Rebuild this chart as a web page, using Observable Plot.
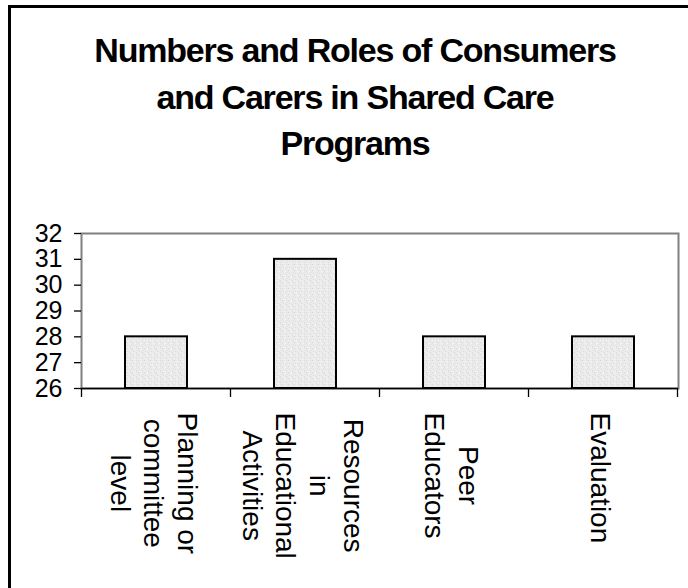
<!DOCTYPE html>
<html><head><meta charset="utf-8">
<script src="https://cdn.jsdelivr.net/npm/d3@7"></script>
<script src="https://cdn.jsdelivr.net/npm/@observablehq/plot@0.6"></script>
<style>
html,body{margin:0;padding:0;background:#fff;overflow:hidden;}
#wrap{position:relative;width:688px;height:588px;overflow:hidden;font-family:"Liberation Sans",Arial,sans-serif;}
#border{position:absolute;left:8px;top:5px;width:800px;height:700px;border-left:3px solid #000;border-top:3px solid #000;}
#title{position:absolute;left:0;top:27px;width:710px;text-align:center;font-weight:bold;font-size:34px;line-height:46.5px;letter-spacing:-1.2px;color:#000;}
#chart{position:absolute;left:0;top:0;}
</style></head>
<body><div id="wrap"><div id="border"></div><div id="title">Numbers and Roles of Consumers<br>and Carers in Shared Care<br>Programs</div><div id="chart"></div></div>
<script>
const categories = ["Planning or committee level", "Resources in Educational Activities", "Peer Educators", "Evaluation"];
const labelLines = [["Planning or", "committee", "level"], ["Resources", "in", "Educational", "Activities"], ["Peer", "Educators"], ["Evaluation"]];
const values = [28, 31, 28, 28];
const yTicks = [26, 27, 28, 29, 30, 31, 32];
const yBase = 26;

const data = categories.map((c, i) => ({cat: c, value: values[i], label: labelLines[i].join("\n")}));

const chart = Plot.plot({
  width: 688, height: 588,
  marginLeft: 81, marginRight: 10, marginTop: 233, marginBottom: 200,
  style: {background: "transparent", fontFamily: "'Liberation Sans', Arial, sans-serif", color: "#000", overflow: "visible"},
  x: {domain: categories, paddingInner: 0.584, paddingOuter: 0.292, axis: null},
  y: {domain: [yTicks[0], yTicks[yTicks.length - 1]], axis: null},
  marks: [
    Plot.frame({stroke: "#808080", strokeWidth: 2}),
    Plot.barY(data, {x: "cat", y1: yBase, y2: "value", fill: "url(#stipple)", stroke: "#000", strokeWidth: 2}),
    Plot.ruleY([yBase], {stroke: "#000", strokeWidth: 1.5}),
    Plot.axisY({ticks: yTicks, tickFormat: d3.format("d"), label: null, tickSize: 7, tickPadding: 12, fontSize: 25, strokeWidth: 1.3}),
    Plot.text(data, {x: "cat", text: "label", frameAnchor: "bottom", rotate: 90, textAnchor: "start", lineAnchor: "middle", lineHeight: 1.2, fontSize: 28, dy: 24, dx: -1.5, fill: "#000"})
  ]
});

// stipple texture for bars
const svg = d3.select(chart);
const defs = svg.insert("defs", ":first-child");
const pat = defs.append("pattern").attr("id", "stipple").attr("patternUnits", "userSpaceOnUse").attr("width", 6).attr("height", 6);
pat.append("rect").attr("width", 6).attr("height", 6).attr("fill", "#ebebeb");
const specks = [[0, 0, "#d4d4d4"], [3, 1, "#f8f8f8"], [1, 3, "#dadada"], [4, 4, "#d8d8d8"], [2, 5, "#f6f6f6"], [5, 2, "#dfdfdf"], [0, 4, "#f4f4f4"], [4, 0, "#e0e0e0"]];
specks.forEach(([sx, sy, c]) => pat.append("rect").attr("x", sx).attr("y", sy).attr("width", 1).attr("height", 1).attr("fill", c));

document.getElementById("chart").appendChild(chart);

// category boundary ticks below the axis
const xs = chart.scale("x");
const ys = chart.scale("y");
const centers = categories.map(c => xs.apply(c) + xs.bandwidth / 2);
const step = centers[1] - centers[0];
const y0 = ys.apply(yBase);
const bounds = [centers[0] - step / 2, ...centers.map(c => c + step / 2)];
svg.append("g").selectAll("line").data(bounds).join("line")
  .attr("x1", d => d).attr("x2", d => d).attr("y1", y0).attr("y2", y0 + 9)
  .attr("stroke", "#000").attr("stroke-width", 1.3);

// center each line of the rotated labels within its block
svg.selectAll('g[aria-label="text"] text').each(function() {
  const tspans = this.querySelectorAll("tspan");
  if (!tspans.length) return;
  let max = 0;
  tspans.forEach(t => { max = Math.max(max, t.getComputedTextLength()); });
  this.setAttribute("text-anchor", "middle");
  tspans.forEach(t => t.setAttribute("x", max / 2));
});
</script>
</body></html>
